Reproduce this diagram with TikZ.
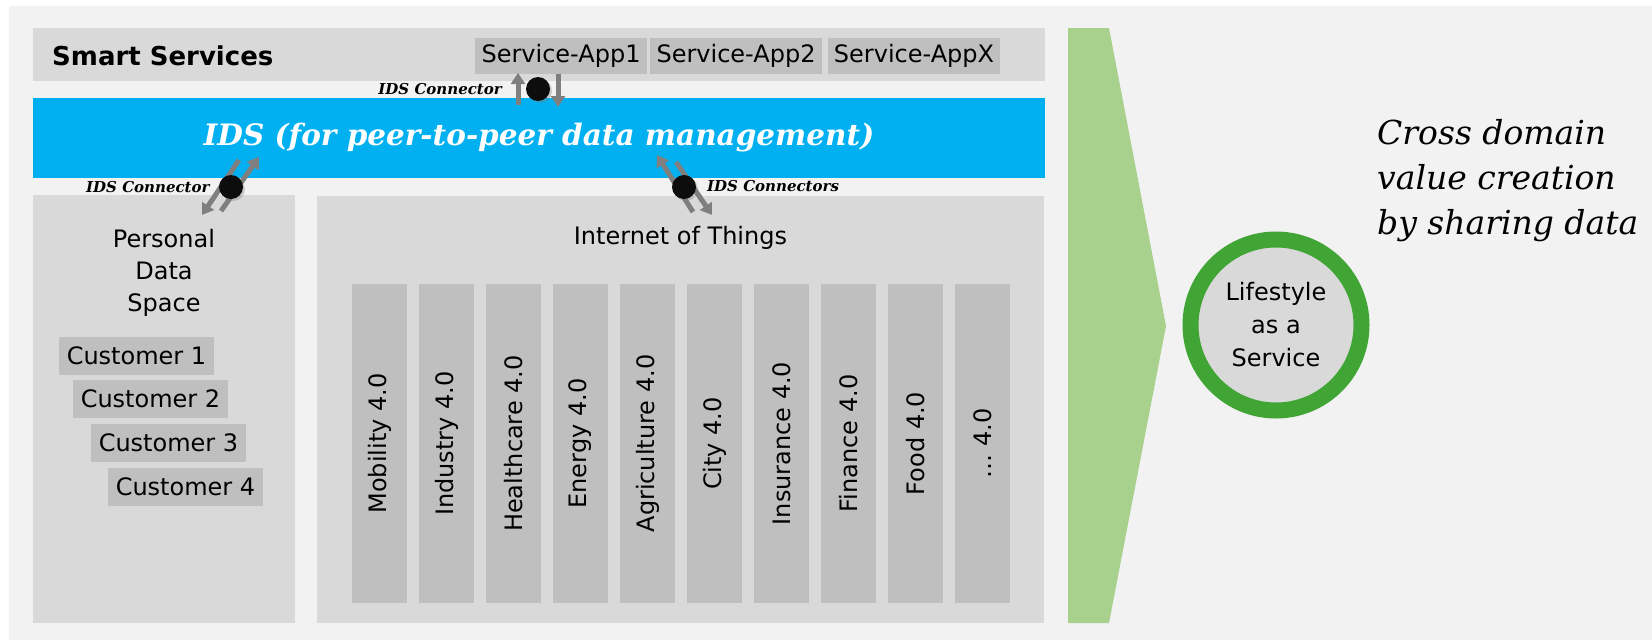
\documentclass[tikz,border=0pt]{standalone}
\usepackage{fontspec}
\setmainfont{DejaVu Sans}
\newfontfamily\idsfont{DejaVu Serif}
\usetikzlibrary{arrows.meta,shadows}

\definecolor{bgGray}{HTML}{F2F2F2}
\definecolor{boxGray}{HTML}{D9D9D9}
\definecolor{itemGray}{HTML}{BFBFBF}
\definecolor{idsBlue}{HTML}{00B0F0}
\definecolor{arrowGray}{HTML}{7F7F7F}
\definecolor{chevronGreen}{HTML}{A9D18E}
\definecolor{ringGreen}{HTML}{40A535}

\tikzset{
  layer/.style={fill=boxGray, inner sep=0pt},
  item/.style={fill=itemGray, inner sep=0pt, font=\fontsize{24}{28}\selectfont},
  domainbar/.style={item, rotate=90, minimum width=319pt, minimum height=55pt},
  connlabel/.style={inner sep=0pt, font=\idsfont\bfseries\itshape\fontsize{15}{17}\selectfont},
  conndot/.style={circle, fill=black!95, minimum size=24pt, inner sep=0pt,
    drop shadow={shadow xshift=2pt, shadow yshift=-2pt, opacity=0.35}},
  idsarrow/.style={draw=arrowGray, line width=5pt, -{Triangle[width=14pt,length=11pt]}}
}

\begin{document}
\begin{tikzpicture}[x=1pt,y=-1pt]
  \useasboundingbox (0,0) rectangle (1652,640);
  \fill[bgGray] (9,6) rectangle (1652,640);

  % Smart Services
  \node[layer, minimum width=1012pt, minimum height=53pt] (smart) at (539,54.5) {};
  \node[anchor=base west, inner sep=0pt, font=\bfseries\fontsize{26}{30}\selectfont] (smarttitle) at (52,65) {Smart Services};
  \foreach \x/\name/\lbl in {561/app1/Service-App1, 736/app2/Service-App2, 914/appx/Service-AppX}
    \node[item, minimum width=172pt, minimum height=36pt] (\name) at (\x,56) {\lbl};

  % IDS
  \node[fill=idsBlue, minimum width=1012pt, minimum height=80pt, inner sep=0pt, text=white,
    font=\idsfont\bfseries\itshape\fontsize{29.5}{34}\selectfont] (ids) at (539,138) {IDS (for peer-to-peer data management)};

  % Personal Data Space
  \node[layer, minimum width=262pt, minimum height=428pt] (pds) at (164,409) {};
  \node[anchor=north, inner sep=0pt, align=center, font=\fontsize{24}{32}\selectfont] (pdstitle) at (164,229) {Personal\\Data\\Space};
  \foreach \i/\x/\y in {1/136.5/355.5, 2/150.5/399, 3/168.5/443, 4/185.5/487}
    \node[item, minimum width=155pt, minimum height=38pt] (cust\i) at (\x,\y) {Customer \i};

  % Internet of Things
  \node[layer, minimum width=727pt, minimum height=427pt] (iot) at (680.5,409.5) {};
  \node[inner sep=0pt, font=\fontsize{24}{28}\selectfont] (iottitle) at (680.5,238) {Internet of Things};
  \foreach \lbl [count=\i from 0] in {Mobility, Industry, Healthcare, Energy, Agriculture, City, Insurance, Finance, Food, \ldots}
    \node[domainbar] (dom\i) at ({379.5+67*\i},443.5) {\lbl\ 4.0};

  % IDS Connectors
  \coordinate (c1) at (538,89);
  \coordinate (c2) at (231,187);
  \coordinate (c3) at (684,187);
  \draw[idsarrow] ([shift={(-20,16)}]c1) -- ([shift={(-20,-16)}]c1);
  \draw[idsarrow] ([shift={(20,-15)}]c1) -- ([shift={(20,18)}]c1);
  \draw[idsarrow] ([shift={(-10,24)}]c2) -- ([shift={(28,-30)}]c2);
  \draw[idsarrow] ([shift={(8,-27)}]c2) -- ([shift={(-29,28)}]c2);
  \draw[idsarrow] ([shift={(9,25)}]c3) -- ([shift={(-27,-32)}]c3);
  \draw[idsarrow] ([shift={(-8,-25)}]c3) -- ([shift={(28,28)}]c3);
  \node[conndot] (dot1) at (c1) {};
  \node[conndot] (dot2) at (c2) {};
  \node[conndot] (dot3) at (c3) {};
  \node[connlabel, anchor=base east] (lbl1) at (502,94) {IDS Connector};
  \node[connlabel, anchor=base west] (lbl2) at (86,192) {IDS Connector};
  \node[connlabel, anchor=base west] (lbl3) at (707,191) {IDS Connectors};

  % value creation
  \fill[chevronGreen] (1068,28) -- (1109,28) -- (1166,326) -- (1109,623) -- (1068,623) -- cycle;
  \node[circle, fill=boxGray, draw=ringGreen, line width=16pt, minimum size=171pt, inner sep=0pt,
    align=center, font=\fontsize{24}{33}\selectfont] (laas) at (1276,325) {Lifestyle\\as a\\Service};
  \node[anchor=north west, inner sep=0pt, align=left,
    font=\idsfont\itshape\fontsize{33}{45}\selectfont] (slogan) at (1377,119) {Cross domain\\value creation\\by sharing data};
\end{tikzpicture}
\end{document}
